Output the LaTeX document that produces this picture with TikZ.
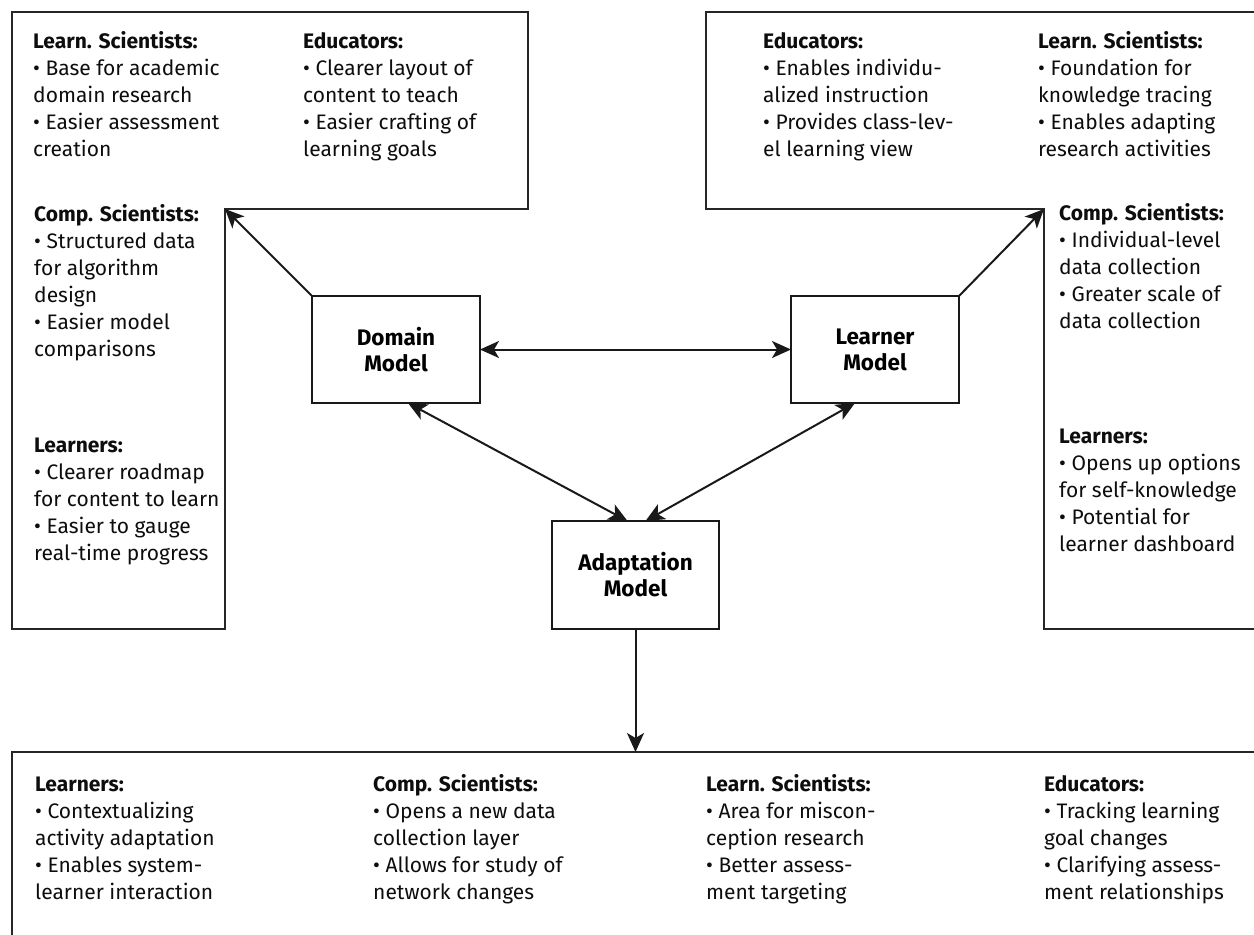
\documentclass[tikz,border=0pt]{standalone}
\usepackage{fontspec}
\setmainfont{Fira Sans}
\usetikzlibrary{arrows.meta}
\begin{document}
\begin{tikzpicture}[x=1pt,y=-1pt,
  frame/.style={line width=2.3pt, draw=black!85},
  model/.style={draw=black!90, line width=2.3pt, minimum width=168pt, minimum height=107pt,
    inner sep=0pt, outer sep=0pt, align=center, font=\fontsize{22.5}{26}\selectfont\bfseries},
  blk/.style={anchor=base west, inner sep=0pt, align=left, font=\fontsize{21}{27}\selectfont, text=black!95},
  arr/.style={line width=2pt, draw=black!90, -{Stealth[length=19pt,width=17pt,inset=5pt]}},
  darr/.style={line width=2pt, draw=black!90, {Stealth[length=19pt,width=17pt,inset=5pt]}-{Stealth[length=19pt,width=17pt,inset=5pt]}}
]
\useasboundingbox (0,0) rectangle (1254,935);

% frames
\draw[frame] (12,12) -- (528,12) -- (528,209) -- (225,209) -- (225,629) -- (12,629) -- cycle;
\draw[frame] (1254,12) -- (706,12) -- (706,209) -- (1044,209) -- (1044,629) -- (1254,629);
\draw[frame] (1254,752) -- (12,752) -- (12,935);

\coordinate (tlc) at (225,209);
\coordinate (trc) at (1044,209);
\coordinate (botc) at (635.5,752);

% models
\node[model] (dm) at (396,349.5) {Domain\\Model};
\node[model] (lm) at (875,349.5) {Learner\\Model};
\node[model, minimum width=167pt, minimum height=108pt] (am) at (635.5,575) {Adaptation\\Model};

% connectors
\draw[arr] (dm.north west) -- (tlc);
\draw[arr] (lm.north east) -- (trc);
\draw[darr] (dm.east) -- (lm.west);
\draw[darr] ([xshift=12pt]dm.south) -- ([xshift=-8pt]am.north);
\draw[darr] ([xshift=-20pt]lm.south) -- ([xshift=10pt]am.north);
\draw[arr] (am.south) -- (botc);

% text blocks (anchor = baseline of last line)
\node[blk] (tl1) at (33,156.5) {\textbf{Learn. Scientists:}\\\textbullet\ Base for academic\\domain research\\\textbullet\ Easier assessment\\creation};
\node[blk] (tl2) at (303,156.5) {\textbf{Educators:}\\\textbullet\ Clearer layout of\\content to teach\\\textbullet\ Easier crafting of\\learning goals};
\node[blk] (lc) at (34,356.5) {\textbf{Comp. Scientists:}\\\textbullet\ Structured data\\for algorithm\\design\\\textbullet\ Easier model\\comparisons};
\node[blk] (ll) at (34,560.5) {\textbf{Learners:}\\\textbullet\ Clearer roadmap\\for content to learn\\\textbullet\ Easier to gauge\\real-time progress};

\node[blk] (tr1) at (763,156.5) {\textbf{Educators:}\\\textbullet\ Enables individu-\\alized instruction\\\textbullet\ Provides class-lev-\\el learning view};
\node[blk] (tr2) at (1038,156.5) {\textbf{Learn. Scientists:}\\\textbullet\ Foundation for\\knowledge tracing\\\textbullet\ Enables adapting\\research activities};
\node[blk] (rc) at (1059,328) {\textbf{Comp. Scientists:}\\\textbullet\ Individual-level\\data collection\\\textbullet\ Greater scale of\\data collection};
\node[blk] (rl) at (1059,551.5) {\textbf{Learners:}\\\textbullet\ Opens up options\\for self-knowledge\\\textbullet\ Potential for\\learner dashboard};

\node[blk] (b1) at (35,899.5) {\textbf{Learners:}\\\textbullet\ Contextualizing\\activity adaptation\\\textbullet\ Enables system-\\learner interaction};
\node[blk] (b2) at (373,899.5) {\textbf{Comp. Scientists:}\\\textbullet\ Opens a new data\\collection layer\\\textbullet\ Allows for study of\\network changes};
\node[blk] (b3) at (706,899.5) {\textbf{Learn. Scientists:}\\\textbullet\ Area for miscon-\\ception research\\\textbullet\ Better assess-\\ment targeting};
\node[blk] (b4) at (1044,899.5) {\textbf{Educators:}\\\textbullet\ Tracking learning\\goal changes\\\textbullet\ Clarifying assess-\\ment relationships};
\end{tikzpicture}
\end{document}
